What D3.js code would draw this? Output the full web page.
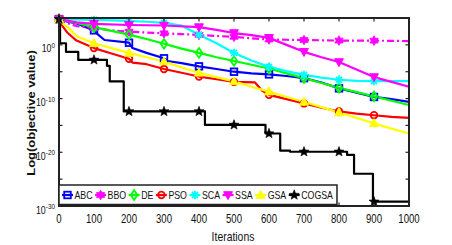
<!DOCTYPE html>
<html><head><meta charset="utf-8">
<script src="https://cdn.jsdelivr.net/npm/d3@7"></script>
<style>
body{margin:0;background:#fff}
svg{display:block}
text{font-family:"Liberation Sans",Arial,sans-serif;fill:#111}
</style>
</head><body>
<svg id="c" width="452" height="245"></svg>
<script>
// ---- data (iteration, log10 of objective value) ----
const xTicks = [0,100,200,300,400,500,600,700,800,900,1000];
const yTickExps = [0,-10,-20,-30];
const yMinorExps = [5,-5,-15,-25];
const markerIters = [0,100,200,300,400,500,600,700,800,900];
const seriesNames = ["ABC","BBO","DE","PSO","SCA","SSA","GSA","COGSA"];

const ABC = [[0,4.8],[25,4.3],[50,4.0],[100,2.7],[110,2.0],[130,0.9],[200,0.4],[210,-0.6],[250,-1.5],[300,-2.5],[310,-3.0],[350,-3.4],[400,-4.0],[450,-4.5],[500,-5.0],[550,-5.3],[600,-5.5],[650,-5.8],[700,-6.2],[750,-7.0],[800,-8.1],[850,-8.9],[900,-9.7],[950,-10.1],[1000,-10.6]];
const BBO = [[0,4.8],[25,4.0],[50,3.5],[100,3.1],[150,2.7],[200,2.45],[250,2.3],[300,2.15],[350,2.0],[400,1.85],[450,1.65],[500,1.5],[550,1.2],[600,1.0],[650,0.95],[700,0.9],[750,0.85],[800,0.8],[850,0.8],[900,0.78],[950,0.75],[1000,0.7]];
const DE  = [[0,4.8],[25,4.4],[50,4.1],[100,3.3],[150,2.6],[200,1.9],[250,1.1],[300,0.2],[350,-0.7],[400,-1.5],[450,-2.3],[500,-3.0],[550,-3.7],[600,-4.4],[650,-5.3],[700,-6.2],[750,-7.1],[800,-8.0],[850,-8.8],[900,-9.6],[950,-10.4],[1000,-11.2]];
const PSO = [[0,4.8],[10,3.5],[25,2.2],[50,0.8],[100,-0.6],[150,-1.6],[200,-2.6],[210,-3.3],[250,-3.6],[300,-4.5],[350,-5.2],[400,-5.9],[450,-6.4],[500,-6.9],[560,-7.0],[580,-8.5],[600,-9.3],[650,-10.1],[700,-10.9],[750,-11.7],[800,-12.4],[850,-12.8],[900,-13.1],[950,-13.4],[1000,-13.6]];
const SCA = [[0,4.8],[100,4.65],[200,4.45],[250,4.3],[300,4.1],[350,3.6],[400,1.9],[450,0.3],[500,-1.5],[550,-2.9],[600,-4.1],[650,-4.9],[700,-5.6],[750,-6.1],[800,-6.5],[850,-6.7],[900,-6.75],[1000,-6.75]];
const SSA = [[0,4.8],[50,4.2],[100,3.9],[200,3.7],[300,3.6],[400,3.3],[450,2.8],[500,2.2],[550,1.8],[600,1.3],[650,0.0],[700,-1.3],[750,-2.3],[800,-3.2],[850,-4.6],[900,-6.0],[950,-6.9],[1000,-7.8]];
const GSA = [[0,4.8],[10,4.0],[25,3.3],[50,1.6],[100,0.3],[150,-0.6],[200,-1.5],[250,-2.3],[300,-3.1],[350,-4.2],[400,-5.2],[450,-6.0],[500,-6.8],[550,-7.8],[600,-8.7],[650,-9.7],[700,-10.6],[750,-11.6],[800,-12.6],[850,-13.6],[900,-14.6],[950,-15.6],[1000,-16.5]];
const COGSA = [[0,4.8],[3,0.3],[20,-1.3],[55,-2.8],[137,-3.9],[145,-6.8],[185,-12.4],[417,-14.9],[590,-16.5],[632,-19.7],[660,-19.9],[823,-20.5],[843,-24.0],[897,-29.2],[1000,-29.2]];

// ---- layout ----
const svg = d3.select("#c");
const L = 59, R = 409, T = 18, B = 206;
const SX = 0.8; // horizontal text compression
const x = d3.scaleLinear().domain([0,1000]).range([L,R]);
const y = d3.scaleLog().domain([1e-30,1e5]).range([B,T]);

const styles = {
  ABC:{c:"#0000ff",m:"square",dash:null},
  BBO:{c:"#ff00ff",m:"hexagram",dash:"7,3,2,3"},
  DE:{c:"#00ff00",m:"diamond",dash:null},
  PSO:{c:"#ff0000",m:"circle",dash:null},
  SCA:{c:"#00ffff",m:"asterisk",dash:null},
  SSA:{c:"#ff00ff",m:"tridown",dash:null},
  GSA:{c:"#ffff00",m:"triup",dash:null},
  COGSA:{c:"#000000",m:"star",dash:null}
};
const dataMap = {ABC,BBO,DE,PSO,SCA,SSA,GSA,COGSA};

function starPath(n, ro, ri, rot){
  let p=[];
  for(let i=0;i<2*n;i++){
    const r = i%2===0?ro:ri;
    const a = rot + i*Math.PI/n;
    p.push([r*Math.sin(a), -r*Math.cos(a)]);
  }
  return "M"+p.map(q=>q[0].toFixed(2)+","+q[1].toFixed(2)).join("L")+"Z";
}
function drawMarker(g, type, cx, cy, col){
  const tr = `translate(${cx},${cy})`;
  switch(type){
    case "square":
      g.append("rect").attr("x",cx-3.3).attr("y",cy-3.3).attr("width",6.6).attr("height",6.6)
        .attr("fill","none").attr("stroke",col).attr("stroke-width",1.8); break;
    case "hexagram":
      g.append("path").attr("d",starPath(6,4.8,2.8,0)).attr("transform",tr)
        .attr("fill",col).attr("stroke",col).attr("stroke-width",0.8); break;
    case "diamond":
      g.append("path").attr("d",`M0,-4.8L3.3,0L0,4.8L-3.3,0Z`).attr("transform",tr)
        .attr("fill","none").attr("stroke",col).attr("stroke-width",1.8); break;
    case "circle":
      g.append("circle").attr("cx",cx).attr("cy",cy).attr("r",3.3)
        .attr("fill","none").attr("stroke",col).attr("stroke-width",1.8); break;
    case "asterisk":
      g.append("path").attr("d","M-4.2,0H4.2M0,-4.2V4.2M-3,-3L3,3M-3,3L3,-3").attr("transform",tr)
        .attr("fill","none").attr("stroke",col).attr("stroke-width",1.8); break;
    case "tridown":
      g.append("path").attr("d","M-4.4,-3.3L4.4,-3.3L0,4.6Z").attr("transform",tr)
        .attr("fill",col).attr("stroke",col).attr("stroke-width",1); break;
    case "triup":
      g.append("path").attr("d","M-4.4,3.3L4.4,3.3L0,-4.6Z").attr("transform",tr)
        .attr("fill",col).attr("stroke",col).attr("stroke-width",1); break;
    case "star":
      g.append("path").attr("d",starPath(5,5.2,2.2,0)).attr("transform",tr)
        .attr("fill",col).attr("stroke",col).attr("stroke-width",0.6); break;
  }
}
function valueAt(arr, it, step){
  for(let i=0;i<arr.length-1;i++){
    if(it>=arr[i][0] && it<arr[i+1][0]){
      if(step) return arr[i][1];
      const t=(it-arr[i][0])/(arr[i+1][0]-arr[i][0]);
      return arr[i][1]+t*(arr[i+1][1]-arr[i][1]);
    }
  }
  return arr[arr.length-1][1];
}
function addText(g, tx, ty, size, anchor){
  return g.append("text").attr("transform",`translate(${tx},${ty}) scale(${SX},1)`)
    .attr("text-anchor",anchor).attr("font-size",size);
}

// plot background
svg.append("rect").attr("x",L).attr("y",T).attr("width",R-L).attr("height",B-T).attr("fill","#fff");

// lines
const plot = svg.append("g");
seriesNames.forEach(n=>{
  const st = styles[n];
  const line = d3.line().x(d=>x(d[0])).y(d=>y(Math.pow(10,d[1])))
    .curve(n==="COGSA"?d3.curveStepAfter:d3.curveLinear);
  plot.append("path").datum(dataMap[n]).attr("d",line)
    .attr("fill","none").attr("stroke",st.c).attr("stroke-width",2.2)
    .attr("stroke-dasharray",st.dash).attr("stroke-linejoin","round");
});
seriesNames.forEach(n=>{
  const st = styles[n];
  markerIters.forEach(it=>{
    const v = valueAt(dataMap[n], it, n==="COGSA");
    drawMarker(plot, st.m, x(it), y(Math.pow(10,v)), st.c);
  });
});

// axes box + ticks
const ax = svg.append("g").attr("stroke","#222").attr("stroke-width",1.2);
xTicks.forEach(t=>{
  ax.append("line").attr("x1",x(t)).attr("x2",x(t)).attr("y1",B).attr("y2",B-3.5);
  ax.append("line").attr("x1",x(t)).attr("x2",x(t)).attr("y1",T).attr("y2",T+3.5);
});
yTickExps.concat(yMinorExps).forEach(e=>{
  const yy=y(Math.pow(10,e));
  ax.append("line").attr("x1",L).attr("x2",L+3.5).attr("y1",yy).attr("y2",yy);
  ax.append("line").attr("x1",R).attr("x2",R-3.5).attr("y1",yy).attr("y2",yy);
});
svg.append("rect").attr("x",L).attr("y",T).attr("width",R-L).attr("height",B-T)
  .attr("fill","none").attr("stroke","#222").attr("stroke-width",2);

// x tick labels
xTicks.forEach(t=>{
  addText(svg, x(t), 223, 12, "middle").text(t);
});
// y tick labels
yTickExps.forEach(e=>{
  const yy=y(Math.pow(10,e));
  const tx = addText(svg, 55, yy+7.5, 11, "end");
  tx.append("tspan").text("10");
  tx.append("tspan").attr("font-size",8).attr("dy",-4.5).text(e);
});
// axis titles
addText(svg, 233, 241, 13, "middle").text("Iterations");
svg.append("text").attr("transform",`translate(35,${(T+B)/2 + 1}) rotate(-90) scale(1,0.8)`)
  .attr("text-anchor","middle").attr("font-size",13).attr("font-weight","bold")
  .text("Log(objective value)");

// legend
const lg = svg.append("g");
const lgBox = lg.append("rect").attr("x",59).attr("y",185).attr("height",19.5)
  .attr("fill","#fff").attr("stroke","#222").attr("stroke-width",1.5);
let cx = 62;
const ly = 195;
seriesNames.forEach(n=>{
  const st = styles[n];
  lg.append("line").attr("x1",cx).attr("x2",cx+11).attr("y1",ly).attr("y2",ly)
    .attr("stroke",st.c).attr("stroke-width",2.2);
  drawMarker(lg, st.m, cx+5.5, ly, st.c);
  const t = addText(lg, cx+12.5, ly+4, 11, "start").text(n);
  cx += 12.5 + t.node().getComputedTextLength()*SX + 2.5;
});
lgBox.attr("width", cx - 59 + 1.5);
</script>
</body></html>
